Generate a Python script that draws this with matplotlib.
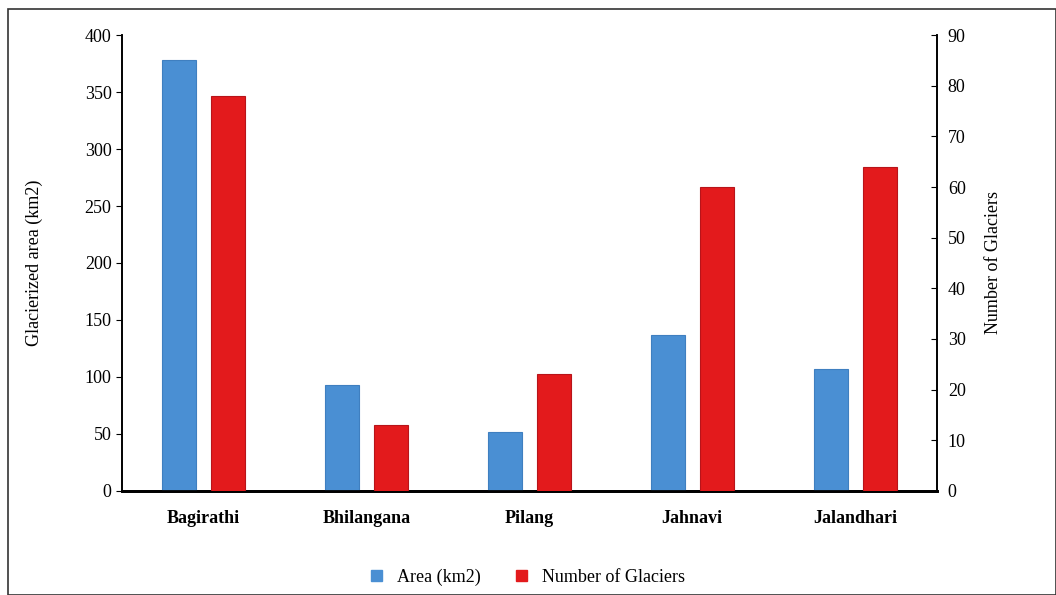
import matplotlib.pyplot as plt
from matplotlib.patches import Patch, Rectangle
import numpy as np

basins = ['Bagirathi', 'Bhilangana', 'Pilang', 'Jahnavi', 'Jalandhari']
area = [378, 93, 52, 137, 107]
glaciers = [78, 13, 23, 60, 64]

plt.rcParams['font.family'] = ['Liberation Serif', 'DejaVu Serif']

fig = plt.figure(figsize=(10.56, 5.95), dpi=100)
ax = fig.add_axes([0.1155, 0.175, 0.7715, 0.766])
ax2 = ax.twinx()

x = np.arange(len(basins))
w = 0.21
ax.bar(x - 0.15, area, w, color='#4a8fd3', edgecolor='#3f7fc0', linewidth=0.8, zorder=3)
ax2.bar(x + 0.15, glaciers, w, color='#e31a1c', edgecolor='#b8141a', linewidth=0.8, zorder=3)

ax.set_xlim(-0.5, 4.5)
ax.set_ylim(0, 400)
ax2.set_ylim(0, 90)
ax.set_yticks(range(0, 401, 50))
ax2.set_yticks(range(0, 91, 10))
ax.set_xticks(x)
ax.set_xticklabels(basins, fontsize=13, fontweight='bold')
ax.tick_params(axis='x', length=0, pad=14)
ax.tick_params(axis='y', labelsize=13, length=4)
ax2.tick_params(axis='y', labelsize=13, length=4, direction='in', pad=8)

ax.set_ylabel('Glacierized area (km2)', fontsize=13, labelpad=30)
ax2.set_ylabel('Number of Glaciers', fontsize=13, labelpad=14)

for a in (ax, ax2):
    a.spines['top'].set_visible(False)
    a.spines['bottom'].set_linewidth(2)
    a.spines['left'].set_linewidth(1.2)
    a.spines['right'].set_linewidth(1.2)

handles = [Patch(color='#4a8fd3', label='Area (km2)'),
           Patch(color='#e31a1c', label='Number of Glaciers')]
fig.legend(handles=handles, loc='center', bbox_to_anchor=(0.5, 0.03), ncol=2,
           frameon=False, fontsize=13, handlelength=0.6, handleheight=0.6,
           columnspacing=2.0)

fig.patches.append(Rectangle((8 / 1056, 0), 1 - 8 / 1056, 1 - 9 / 595,
                             transform=fig.transFigure, fill=False,
                             edgecolor='#333333', linewidth=1.2))

fig.savefig('out.png', dpi=100)
